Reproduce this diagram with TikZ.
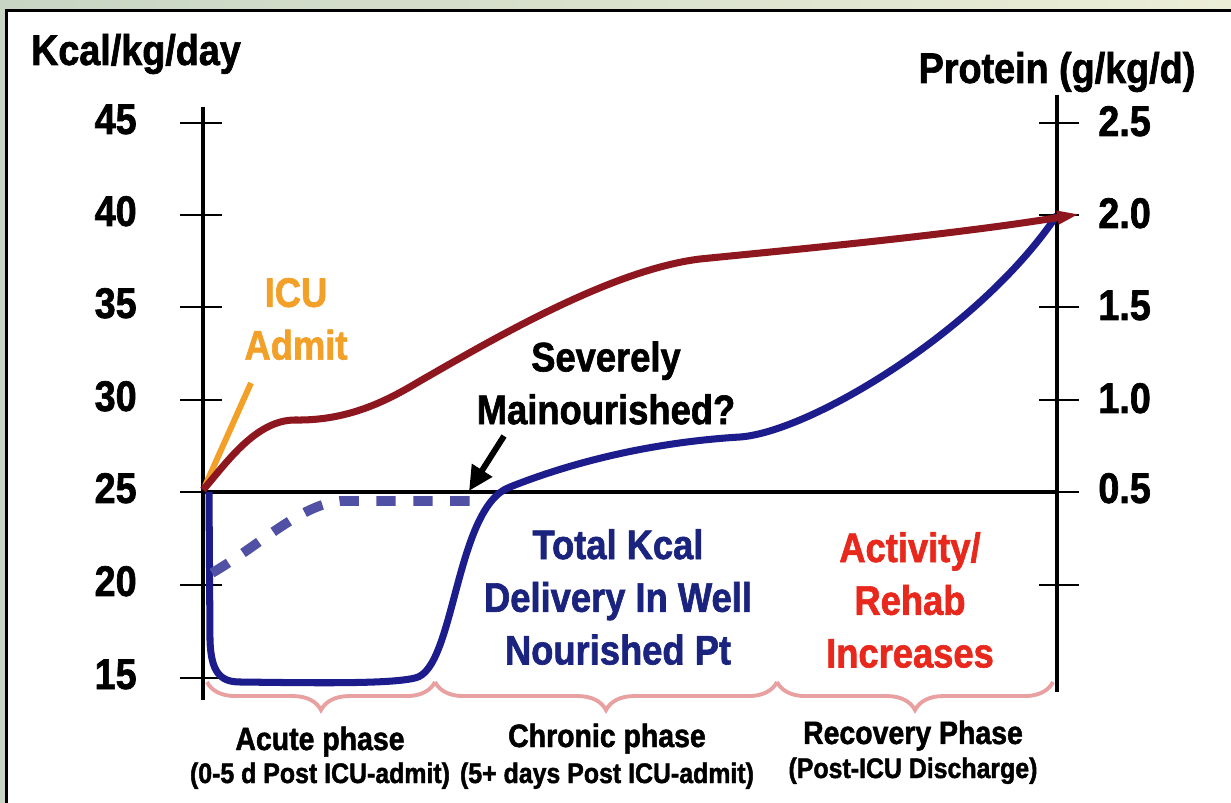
\documentclass[tikz,border=0pt]{standalone}
\usepackage{fontspec}
\setmainfont[FakeStretch=0.88, BoldFeatures={FakeBold=1.5}]{Liberation Sans}
\usetikzlibrary{arrows.meta,decorations.pathreplacing}
\definecolor{kcalred}{RGB}{142,22,30}
\definecolor{kcalblue}{RGB}{28,28,140}
\definecolor{dashblue}{RGB}{80,80,165}
\definecolor{admitorange}{RGB}{242,160,40}
\definecolor{textblue}{RGB}{26,35,126}
\definecolor{textred}{RGB}{232,40,28}
\definecolor{bracepink}{RGB}{232,160,160}
\tikzset{
  axisline/.style={black, line width=2.8pt},
  tickline/.style={black, line width=1.7pt},
  redcurve/.style={kcalred, line width=4pt, -{Triangle[length=13pt,width=7pt]}},
  bluecurve/.style={kcalblue, line width=4pt, line join=round},
  dashcurve/.style={dashblue, line width=5.5pt, dash pattern=on 11pt off 10pt},
  admitline/.style={admitorange, line width=3.4pt},
  pointer/.style={black, line width=3.4pt, -{Triangle[length=14pt,width=13pt]}},
  phasebrace/.style={bracepink, line width=2.2pt, decorate, decoration={brace, amplitude=16pt}},
  numlabel/.style={inner sep=0pt, font=\fontsize{24.4}{28}\selectfont\bfseries},
  axislabel/.style={inner sep=0pt, anchor=base, font=\fontsize{24.4}{28}\selectfont\bfseries},
  maintext/.style={align=center, inner sep=0pt, font=\fontsize{23.5}{30}\selectfont\bfseries},
  phasetext/.style={inner sep=0pt, anchor=base, font=\fontsize{18.4}{22}\selectfont\bfseries},
  phasesub/.style={inner sep=0pt, anchor=base, font=\fontsize{16.1}{19}\selectfont\bfseries}
}

\begin{document}
\begin{tikzpicture}[x=0.02cm, y=-0.02cm]
  \useasboundingbox (0,0) rectangle (1231,803);
  \clip (0,0) rectangle (1231,803);
  \shade[left color={rgb,255:red,200;green,213;blue,196}, right color={rgb,255:red,236;green,238;blue,214}] (0,0) rectangle (1231,803);
  \filldraw[fill=white, draw=black, line width=1.7pt] (6.5,11) rectangle (1260,830);

  % axes
  \coordinate (lt) at (203,107);
  \coordinate (lb) at (203,700);
  \coordinate (rt) at (1057,95);
  \coordinate (rb) at (1057,692);
  \coordinate (ol) at (203,492);
  \coordinate (or) at (1057,492);
  \draw[axisline] (lt) -- (lb);
  \draw[axisline] (rt) -- (rb);
  \draw[axisline] (ol) -- (or);
  \foreach \y in {123,215,307,400,492,585,678} \draw[tickline] (180,\y) -- (222,\y);
  \foreach \y in {123,215,307,400,492,585} \draw[tickline] (1039,\y) -- (1079,\y);

  \node[axislabel] (kcal) at (136,65) {Kcal/kg/day};
  \node[axislabel] (prot) at (1057,83) {Protein (g/kg/d)};

  \node[numlabel, anchor=base east] (k45) at (137,134) {45};
  \node[numlabel, anchor=base east] (k40) at (137,226) {40};
  \node[numlabel, anchor=base east] (k35) at (137,318) {35};
  \node[numlabel, anchor=base east] (k30) at (137,411) {30};
  \node[numlabel, anchor=base east] (k25) at (137,503) {25};
  \node[numlabel, anchor=base east] (k20) at (137,596) {20};
  \node[numlabel, anchor=base east] (k15) at (137,689) {15};

  \node[numlabel, anchor=base west] (p25) at (1098,136) {2.5};
  \node[numlabel, anchor=base west] (p20) at (1098,228) {2.0};
  \node[numlabel, anchor=base west] (p15) at (1098,320) {1.5};
  \node[numlabel, anchor=base west] (p10) at (1098,413) {1.0};
  \node[numlabel, anchor=base west] (p05) at (1098,503) {0.5};

  % phases
  \coordinate (s0) at (207,682);
  \coordinate (s1) at (435,682);
  \coordinate (s2) at (777,682);
  \coordinate (s3) at (1053,682);
  \draw[phasebrace] (s1) -- (s0);
  \draw[phasebrace] (s2) -- (s1);
  \draw[phasebrace] (s3) -- (s2);

  \node[phasetext] (acute) at (320,750) {Acute phase};
  \node[phasesub] (acutesub) at (320,783) {(0-5 d Post ICU-admit)};
  \node[phasetext] (chronic) at (607,747) {Chronic phase};
  \node[phasesub] (chronicsub) at (607,783) {(5+ days Post ICU-admit)};
  \node[phasetext] (recov) at (913,744) {Recovery Phase};
  \node[phasesub] (recovsub) at (913,778) {(Post-ICU Discharge)};

  % well nourished delivery
  \coordinate (b0) at (209,492);
  \coordinate (b1) at (210,640);
  \coordinate (b2) at (240,682);
  \coordinate (b3) at (415,678);
  \coordinate (b4) at (510,487);
  \coordinate (b5) at (740,437);
  \coordinate (b6) at (1057,215);
  \draw[bluecurve]
   (b0) -- (b1) .. controls (211,672) and (220,682) ..
   (b2) .. controls (320,683) and (390,684) ..
   (b3) .. controls (455,670) and (455,507) ..
   (b4) .. controls (560,467) and (640,443) ..
   (b5) .. controls (810,432) and (980,330) ..
   (b6);

  % severely malnourished
  \coordinate (d0) at (212,573);
  \coordinate (d1) at (340,501);
  \coordinate (d2) at (470,501);
  \draw[dashcurve] (d0) .. controls (260,545) and (300,505) .. (d1) -- (d2);

  % admit
  \coordinate (a0) at (205,486);
  \coordinate (a1) at (251,383);
  \draw[admitline] (a0) -- (a1);

  % protein
  \coordinate (r0) at (203,490);
  \coordinate (r1) at (295,420);
  \coordinate (r2) at (420,381);
  \coordinate (r3) at (700,259);
  \coordinate (r4) at (1080,214);
  \draw[redcurve]
   (r0) .. controls (225,465) and (255,420) ..
   (r1) .. controls (350,421) and (390,399) ..
   (r2) .. controls (490,341) and (610,270) ..
   (r3) .. controls (800,249) and (950,235) ..
   (r4);

  \node[maintext, text=admitorange] (icu) at (296,319) {ICU\\Admit};
  \node[maintext] (sev) at (606,383) {Severely\\Mainourished?};
  \node[maintext, text=textblue] (total) at (618,597) {Total Kcal\\Delivery In Well\\Nourished Pt};
  \node[maintext, text=textred] (act) at (910,600) {Activity/\\Rehab\\Increases};

  \coordinate (m0) at (504,436);
  \coordinate (m1) at (469,491);
  \draw[pointer] (m0) -- (m1);
\end{tikzpicture}
\end{document}
